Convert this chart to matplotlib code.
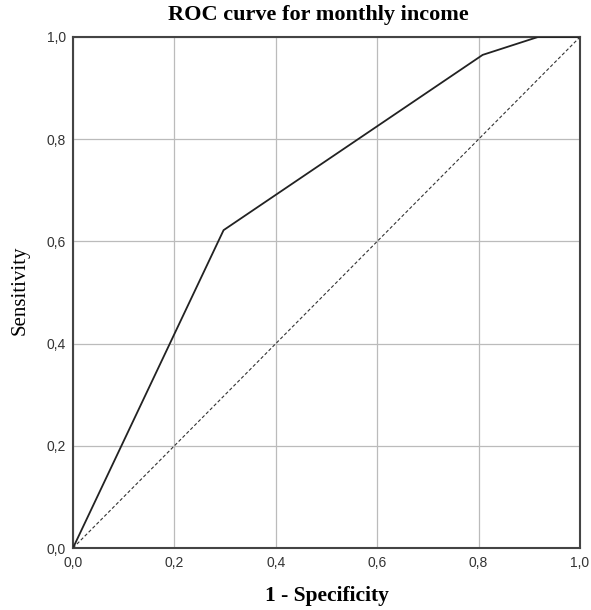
import matplotlib
matplotlib.use("Agg")
import matplotlib.pyplot as plt
import numpy as np

# ROC curve points
fpr = [0.0, 0.297, 0.808, 0.917, 1.0]
tpr = [0.0, 0.622, 0.965, 1.0, 1.0]
ref = [0.0, 1.0]
ticks = [0.0, 0.2, 0.4, 0.6, 0.8, 1.0]
tick_labels = ["0,0", "0,2", "0,4", "0,6", "0,8", "1,0"]

fig = plt.figure(figsize=(5.91, 6.10), dpi=100)
ax = fig.add_axes([73/591, 62/610, 507/591, 511/610])

ax.plot(fpr, tpr, color='#222222', lw=1.3, zorder=3)
ax.plot(ref, ref, color='#333333', lw=0.8, ls=(0, (3, 2)), zorder=3)

ax.set_xlim(0, 1)
ax.set_ylim(0, 1)
ax.set_xticks(ticks)
ax.set_yticks(ticks)
ax.set_xticklabels(tick_labels, family='Liberation Sans', fontsize=10)
ax.set_yticklabels(tick_labels, family='Liberation Sans', fontsize=10)
ax.tick_params(axis='x', length=0, pad=5.5, colors='#333333')
ax.tick_params(axis='y', length=0, pad=5, colors='#333333')
ax.grid(True, color='#bbbbbb', lw=0.9)
ax.set_axisbelow(True)
for s in ax.spines.values():
    s.set_color('#444444')
    s.set_linewidth(1.5)

fig.text(318/591, 1 - 15/610, "ROC curve for monthly income", ha='center', va='center',
         family='Liberation Serif', fontweight='bold', fontsize=16)
fig.text(327/591, 1 - 596/610, "1 - Specificity", ha='center', va='center',
         family='Liberation Serif', fontweight='bold', fontsize=15.5)
fig.text(20/591, 1 - 290/610, "Sensitivity", ha='center', va='center', rotation=90,
         family='Liberation Serif', fontsize=15)

fig.savefig('out.png', dpi=100)
